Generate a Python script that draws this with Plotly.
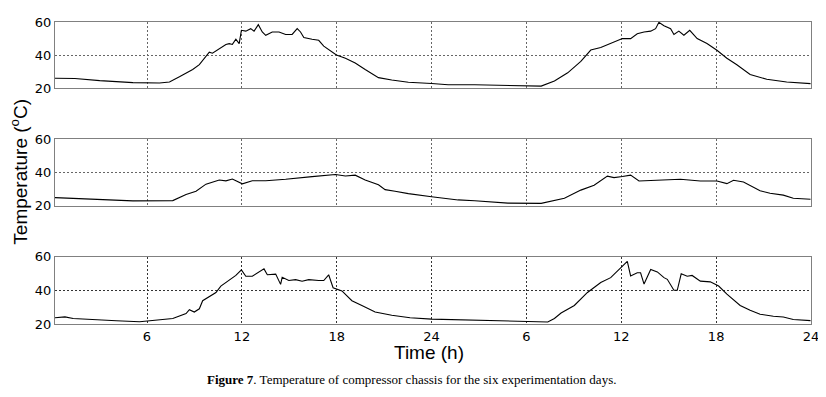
import plotly.graph_objects as go

# ---------------- data (hours since start, temperature in °C) ----------------
top_hours = [0.18, 1.44, 3.01, 5.11, 6.79, 7.42, 8.05, 8.89, 9.31, 9.73, 9.94, 10.14,
             10.57, 10.99, 11.20, 11.40, 11.62, 11.83, 11.97, 12.25, 12.56, 12.77, 13.04,
             13.29, 13.51, 13.92, 14.35, 14.77, 15.18, 15.50, 15.71, 15.92, 16.44, 16.86,
             17.18, 17.49, 17.98, 18.55, 19.17, 19.80, 20.64, 21.48, 22.53, 24.00, 25.05,
             26.73, 28.83, 29.88, 30.93, 31.77, 32.61, 33.44, 34.07, 34.70, 35.33, 36.07,
             36.59, 37.01, 37.44, 37.86, 38.17, 38.38, 38.70, 39.12, 39.33, 39.64, 39.96,
             40.33, 40.80, 41.42, 42.05, 42.68, 43.31, 44.15, 45.20, 46.46, 47.97]
top_temp = [26.1, 26.0, 24.7, 23.5, 23.3, 23.9, 27.0, 31.4, 34.3, 39.6, 41.8, 41.2,
            44.0, 46.5, 47.0, 46.5, 49.6, 47.0, 55.0, 54.5, 56.0, 54.5, 58.4,
            54.0, 52.0, 54.0, 54.0, 52.5, 52.5, 56.0, 54.0, 50.6, 49.6, 49.0,
            45.5, 43.5, 40.2, 38.2, 35.3, 31.4, 26.5, 25.1, 23.7, 23.0, 22.2,
            22.2, 21.6, 21.6, 21.4, 24.5, 29.4, 36.3, 43.1, 44.7, 47.0, 50.0,
            50.0, 52.9, 54.0, 54.5, 56.0, 59.8, 57.8, 56.0, 52.5, 54.5, 52.0,
            55.0, 50.0, 47.0, 43.0, 38.2, 34.3, 28.4, 25.5, 23.9, 22.9]

mid_hours = [0.18, 3.01, 5.11, 7.63, 8.47, 9.10, 9.73, 10.57, 10.99, 11.40, 12.03, 12.66,
             13.51, 14.77, 15.60, 16.44, 17.92, 18.55, 19.17, 19.80, 20.64, 21.06, 21.69,
             22.53, 24.00, 25.68, 26.73, 28.83, 30.93, 31.77, 32.40, 33.44, 34.28, 35.12,
             35.54, 36.07, 36.59, 37.12, 38.28, 39.74, 41.00, 41.63, 42.05, 42.68, 43.10,
             43.73, 44.36, 44.78, 45.41, 46.25, 46.88, 47.97]
mid_temp = [24.9, 23.5, 22.9, 23.1, 26.8, 28.7, 33.0, 35.5, 35.0, 36.1, 33.2, 35.0,
            35.0, 35.9, 36.5, 37.5, 38.8, 37.9, 38.4, 35.5, 32.6, 29.7, 28.7,
            27.3, 25.4, 23.5, 23.0, 21.6, 21.4, 23.2, 24.5, 29.4, 32.3, 37.8,
            36.9, 37.6, 38.4, 34.9, 35.3, 35.9, 34.9, 35.1, 34.9, 33.3, 35.3,
            34.3, 31.4, 29.0, 27.5, 26.4, 24.5, 23.9]

bot_hours = [0.18, 0.81, 1.33, 3.01, 4.06, 5.53, 6.79, 7.63, 8.47, 8.68, 8.99, 9.31,
             9.52, 9.94, 10.36, 10.67, 11.20, 11.62, 11.97, 12.25, 12.66, 12.98, 13.40,
             13.61, 14.14, 14.45, 14.55, 14.97, 15.40, 15.81, 16.23, 16.86, 17.18, 17.49,
             17.77, 18.33, 18.96, 19.59, 20.43, 21.48, 22.64, 24.00, 25.68, 27.78, 29.88,
             31.35, 31.77, 32.19, 33.03, 33.86, 34.70, 35.33, 35.96, 36.38, 36.59, 37.01,
             37.22, 37.44, 37.86, 38.28, 38.70, 38.91, 39.33, 39.54, 39.79, 40.17, 40.48,
             41.00, 41.63, 42.16, 42.68, 43.52, 44.15, 44.78, 45.62, 46.25, 46.88, 47.97]
bot_temp = [23.7, 24.2, 23.3, 22.7, 21.9, 21.3, 22.3, 23.3, 26.2, 28.5, 27.1, 29.0,
            33.8, 36.2, 38.7, 42.5, 46.3, 48.8, 52.1, 48.3, 48.3, 50.2, 52.7,
            49.2, 49.6, 43.5, 47.7, 45.8, 46.3, 45.4, 46.3, 45.8, 45.8, 49.2,
            41.5, 39.6, 33.8, 31.0, 27.1, 25.2, 23.7, 22.9, 22.5, 21.7, 21.2,
            21.2, 23.3, 26.5, 31.0, 38.7, 44.6, 47.5, 53.3, 57.1, 48.5, 50.4,
            50.4, 43.7, 52.3, 50.9, 47.5, 46.5, 40.0, 40.0, 49.8, 48.3, 48.8,
            45.4, 45.0, 42.5, 37.7, 31.0, 28.1, 25.8, 24.6, 24.2, 22.7, 22.0]

x_tick_vals = [6, 12, 18, 24, 30, 36, 42, 48]
x_tick_text = ["6", "12", "18", "24", "6", "12", "18", "24"]
y_tick_vals = [20, 40, 60]

# ---------------- layout geometry ----------------
# The page body has an 8px default margin, so the figure is drawn 8px in from
# the window corner; all reference pixel positions are shifted by that amount.
OFF = 8
WIN_W, WIN_H = 826, 397
W, H = WIN_W - OFF, WIN_H - OFF
PLOT_L, PLOT_R, PLOT_T, PLOT_B = 55, 814, 15, 324   # reference pixel box
M_L, M_R = PLOT_L - OFF, WIN_W - PLOT_R
M_T, M_B = PLOT_T - OFF, WIN_H - PLOT_B
plot_w = W - M_L - M_R
plot_h = H - M_T - M_B
panels_px = [(15, 83), (135, 203), (255, 324)]  # top/bottom rows of each panel


def dom(top, bottom):
    return [1 - (bottom - PLOT_T) / plot_h, 1 - (top - PLOT_T) / plot_h]


fig = go.Figure()
series = [(top_hours, top_temp), (mid_hours, mid_temp), (bot_hours, bot_temp)]
for i, (hx, ty) in enumerate(series):
    n = "" if i == 0 else str(i + 1)
    fig.add_trace(go.Scatter(x=hx, y=ty, mode="lines",
                             line=dict(color="black", width=1.1),
                             xaxis="x" + n, yaxis="y" + n, showlegend=False,
                             hoverinfo="x+y"))

axis_font = dict(family="DejaVu Sans", size=13, color="black")
layout = dict(width=W, height=H, margin=dict(l=M_L, r=M_R, t=M_T, b=M_B, pad=0),
              paper_bgcolor="white", plot_bgcolor="white", showlegend=False)
for i, (tp, bt) in enumerate(panels_px):
    n = "" if i == 0 else str(i + 1)
    gcol = "#333333" if i == 2 else "#666666"
    layout["xaxis" + n] = dict(
        range=[0.18, 48], tickvals=x_tick_vals, ticktext=x_tick_text,
        showticklabels=(i == 2), showgrid=True, gridcolor=gcol, griddash="2px,2px",
        gridwidth=1, showline=True, linecolor="#808080", linewidth=1, mirror=True,
        zeroline=False, ticks="", tickfont=axis_font,
        anchor="y" + n, domain=[0, 1])
    layout["yaxis" + n] = dict(
        range=[20, 60], tickvals=y_tick_vals, showgrid=True, gridcolor=gcol,
        griddash="2px,2px", gridwidth=1, showline=True, linecolor="#808080",
        linewidth=1, mirror=True, zeroline=False, ticks="", tickfont=axis_font,
        anchor="x" + n, domain=dom(tp, bt))

fig.update_layout(**layout)

texts = [
    ("Temperature (<sup>o</sup>C)", 18, 168, -90,
     dict(family="Liberation Sans", size=19, color="black")),
    ("Time (h)", 430, 353, 0,
     dict(family="Liberation Sans", size=19, color="black")),
    ("<b>Figure 7</b>. Temperature of compressor chassis for the six experimentation days.",
     413, 381, 0, dict(family="Liberation Serif", size=13, color="black")),
]
for txt, px, py, ang, fnt in texts:
    fig.add_annotation(text=txt, textangle=ang,
                       x=(px - PLOT_L) / plot_w, y=1 - (py - PLOT_T) / plot_h,
                       xref="paper", yref="paper", showarrow=False,
                       xanchor="center", yanchor="middle", font=fnt)

fig.write_html("out.html")
